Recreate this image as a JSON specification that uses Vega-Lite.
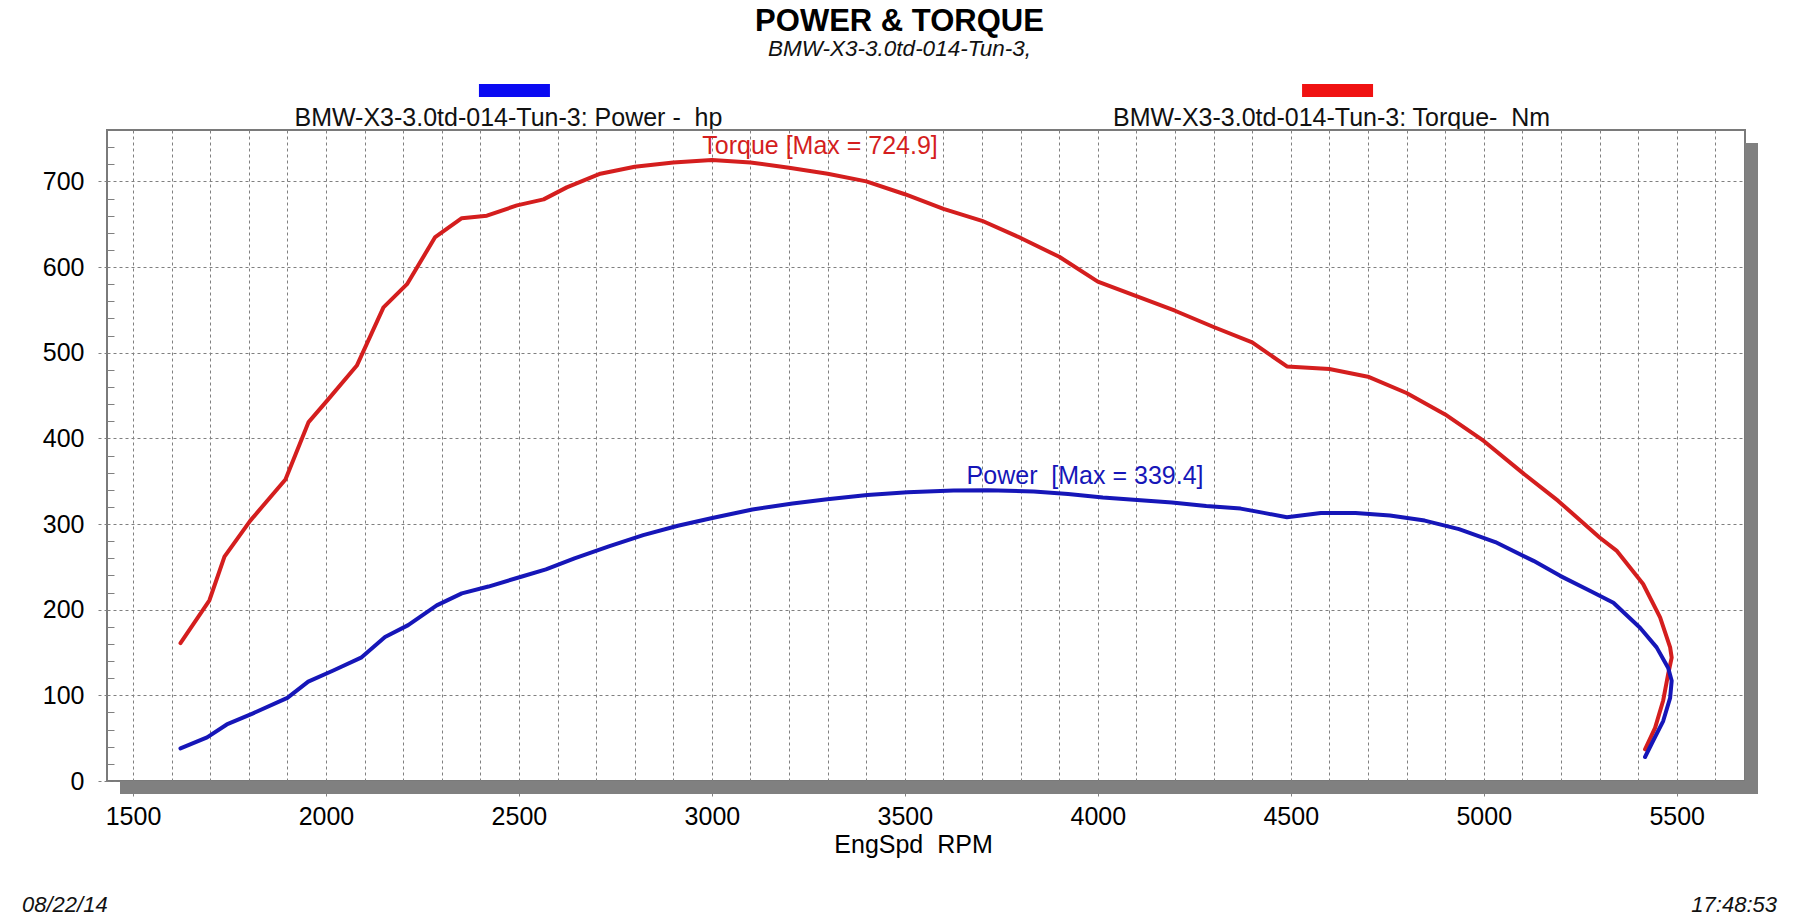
{
  "$schema": "https://vega.github.io/schema/vega-lite/v6.json",
  "background": "white",
  "padding": {"left": 22, "top": 5, "right": 10, "bottom": 0},
  "title": {
    "text": "POWER & TORQUE",
    "subtitle": "BMW-X3-3.0td-014-Tun-3,",
    "font": "Liberation Sans",
    "fontSize": 31,
    "fontWeight": "bold",
    "color": "#000000",
    "subtitleFont": "Liberation Sans",
    "subtitleFontSize": 22.5,
    "subtitleFontStyle": "italic",
    "subtitleColor": "#111111",
    "subtitlePadding": 0,
    "anchor": "middle",
    "offset": 18
  },
  "config": {
    "view": {"stroke": null},
    "font": "Liberation Sans",
    "text": {"font": "Liberation Sans"}
  },
  "datasets": {
    "curves": [
      {"series": "Torque", "i": 1, "rpm": 1623, "value": 161},
      {"series": "Torque", "i": 2, "rpm": 1698, "value": 211},
      {"series": "Torque", "i": 3, "rpm": 1737, "value": 262},
      {"series": "Torque", "i": 4, "rpm": 1804, "value": 304},
      {"series": "Torque", "i": 5, "rpm": 1895, "value": 352},
      {"series": "Torque", "i": 6, "rpm": 1955, "value": 419},
      {"series": "Torque", "i": 7, "rpm": 2003, "value": 444},
      {"series": "Torque", "i": 8, "rpm": 2080, "value": 485},
      {"series": "Torque", "i": 9, "rpm": 2149, "value": 553},
      {"series": "Torque", "i": 10, "rpm": 2210, "value": 580},
      {"series": "Torque", "i": 11, "rpm": 2283, "value": 635},
      {"series": "Torque", "i": 12, "rpm": 2352, "value": 657},
      {"series": "Torque", "i": 13, "rpm": 2417, "value": 660},
      {"series": "Torque", "i": 14, "rpm": 2495, "value": 672},
      {"series": "Torque", "i": 15, "rpm": 2564, "value": 679},
      {"series": "Torque", "i": 16, "rpm": 2624, "value": 693},
      {"series": "Torque", "i": 17, "rpm": 2711, "value": 709},
      {"series": "Torque", "i": 18, "rpm": 2800, "value": 717},
      {"series": "Torque", "i": 19, "rpm": 2900, "value": 722},
      {"series": "Torque", "i": 20, "rpm": 3000, "value": 724.9},
      {"series": "Torque", "i": 21, "rpm": 3100, "value": 722},
      {"series": "Torque", "i": 22, "rpm": 3200, "value": 716},
      {"series": "Torque", "i": 23, "rpm": 3300, "value": 709},
      {"series": "Torque", "i": 24, "rpm": 3400, "value": 700},
      {"series": "Torque", "i": 25, "rpm": 3500, "value": 685},
      {"series": "Torque", "i": 26, "rpm": 3600, "value": 668},
      {"series": "Torque", "i": 27, "rpm": 3700, "value": 654},
      {"series": "Torque", "i": 28, "rpm": 3800, "value": 634},
      {"series": "Torque", "i": 29, "rpm": 3900, "value": 612},
      {"series": "Torque", "i": 30, "rpm": 4000, "value": 583},
      {"series": "Torque", "i": 31, "rpm": 4100, "value": 566},
      {"series": "Torque", "i": 32, "rpm": 4200, "value": 549},
      {"series": "Torque", "i": 33, "rpm": 4300, "value": 530},
      {"series": "Torque", "i": 34, "rpm": 4400, "value": 512},
      {"series": "Torque", "i": 35, "rpm": 4490, "value": 484},
      {"series": "Torque", "i": 36, "rpm": 4600, "value": 481},
      {"series": "Torque", "i": 37, "rpm": 4700, "value": 472},
      {"series": "Torque", "i": 38, "rpm": 4800, "value": 453},
      {"series": "Torque", "i": 39, "rpm": 4900, "value": 428},
      {"series": "Torque", "i": 40, "rpm": 5000, "value": 397},
      {"series": "Torque", "i": 41, "rpm": 5100, "value": 360},
      {"series": "Torque", "i": 42, "rpm": 5193, "value": 327},
      {"series": "Torque", "i": 43, "rpm": 5301, "value": 284},
      {"series": "Torque", "i": 44, "rpm": 5344, "value": 269},
      {"series": "Torque", "i": 45, "rpm": 5413, "value": 230},
      {"series": "Torque", "i": 46, "rpm": 5457, "value": 191},
      {"series": "Torque", "i": 47, "rpm": 5483, "value": 156},
      {"series": "Torque", "i": 48, "rpm": 5487, "value": 144},
      {"series": "Torque", "i": 49, "rpm": 5478, "value": 125},
      {"series": "Torque", "i": 50, "rpm": 5465, "value": 94},
      {"series": "Torque", "i": 51, "rpm": 5444, "value": 62},
      {"series": "Torque", "i": 52, "rpm": 5418, "value": 37},
      {"series": "Power", "i": 1, "rpm": 1623, "value": 38},
      {"series": "Power", "i": 2, "rpm": 1692, "value": 51},
      {"series": "Power", "i": 3, "rpm": 1743, "value": 66},
      {"series": "Power", "i": 4, "rpm": 1811, "value": 79},
      {"series": "Power", "i": 5, "rpm": 1900, "value": 97},
      {"series": "Power", "i": 6, "rpm": 1954, "value": 116},
      {"series": "Power", "i": 7, "rpm": 2019, "value": 129},
      {"series": "Power", "i": 8, "rpm": 2091, "value": 144},
      {"series": "Power", "i": 9, "rpm": 2153, "value": 168},
      {"series": "Power", "i": 10, "rpm": 2213, "value": 182},
      {"series": "Power", "i": 11, "rpm": 2287, "value": 205},
      {"series": "Power", "i": 12, "rpm": 2352, "value": 219},
      {"series": "Power", "i": 13, "rpm": 2421, "value": 227},
      {"series": "Power", "i": 14, "rpm": 2510, "value": 239},
      {"series": "Power", "i": 15, "rpm": 2570, "value": 247},
      {"series": "Power", "i": 16, "rpm": 2644, "value": 260},
      {"series": "Power", "i": 17, "rpm": 2733, "value": 274},
      {"series": "Power", "i": 18, "rpm": 2822, "value": 287},
      {"series": "Power", "i": 19, "rpm": 2912, "value": 298},
      {"series": "Power", "i": 20, "rpm": 3001, "value": 307},
      {"series": "Power", "i": 21, "rpm": 3105, "value": 317},
      {"series": "Power", "i": 22, "rpm": 3209, "value": 324},
      {"series": "Power", "i": 23, "rpm": 3299, "value": 329},
      {"series": "Power", "i": 24, "rpm": 3403, "value": 334},
      {"series": "Power", "i": 25, "rpm": 3507, "value": 337},
      {"series": "Power", "i": 26, "rpm": 3626, "value": 339},
      {"series": "Power", "i": 27, "rpm": 3716, "value": 339.4},
      {"series": "Power", "i": 28, "rpm": 3834, "value": 338},
      {"series": "Power", "i": 29, "rpm": 3923, "value": 335},
      {"series": "Power", "i": 30, "rpm": 4013, "value": 331},
      {"series": "Power", "i": 31, "rpm": 4102, "value": 328},
      {"series": "Power", "i": 32, "rpm": 4192, "value": 325},
      {"series": "Power", "i": 33, "rpm": 4281, "value": 321},
      {"series": "Power", "i": 34, "rpm": 4370, "value": 318},
      {"series": "Power", "i": 35, "rpm": 4430, "value": 313},
      {"series": "Power", "i": 36, "rpm": 4490, "value": 308},
      {"series": "Power", "i": 37, "rpm": 4578, "value": 313},
      {"series": "Power", "i": 38, "rpm": 4668, "value": 313},
      {"series": "Power", "i": 39, "rpm": 4757, "value": 310},
      {"series": "Power", "i": 40, "rpm": 4847, "value": 304},
      {"series": "Power", "i": 41, "rpm": 4936, "value": 294},
      {"series": "Power", "i": 42, "rpm": 5030, "value": 279},
      {"series": "Power", "i": 43, "rpm": 5129, "value": 257},
      {"series": "Power", "i": 44, "rpm": 5198, "value": 239.5},
      {"series": "Power", "i": 45, "rpm": 5275, "value": 222},
      {"series": "Power", "i": 46, "rpm": 5336, "value": 208},
      {"series": "Power", "i": 47, "rpm": 5405, "value": 179},
      {"series": "Power", "i": 48, "rpm": 5448, "value": 156},
      {"series": "Power", "i": 49, "rpm": 5478, "value": 132},
      {"series": "Power", "i": 50, "rpm": 5487, "value": 117},
      {"series": "Power", "i": 51, "rpm": 5483, "value": 97},
      {"series": "Power", "i": 52, "rpm": 5465, "value": 70},
      {"series": "Power", "i": 53, "rpm": 5439, "value": 47},
      {"series": "Power", "i": 54, "rpm": 5418, "value": 28}
    ],
    "maxima": [
      {"series": "Torque", "rpm": 2975, "value": 724.9, "label": "Torque [Max = 724.9]"},
      {"series": "Power", "rpm": 3660, "value": 339.4, "label": "Power \u00a0[Max = 339.4]"}
    ],
    "legend": [
      {"series": "Power", "label": "BMW-X3-3.0td-014-Tun-3: Power - \u00a0hp"},
      {"series": "Torque", "label": "BMW-X3-3.0td-014-Tun-3: Torque- \u00a0Nm"}
    ],
    "stamps": [
      {"kind": "date", "text": "08/22/14"},
      {"kind": "time", "text": "17:48:53"}
    ]
  },
  "spacing": 0,
  "bounds": "flush",
  "vconcat": [
    {
      "width": 1638,
      "height": 51,
      "data": {"name": "legend"},
      "layer": [
        {
          "mark": {"type": "point", "filled": true, "shape": "M-1,-0.1831H1V0.1831H-1Z", "size": 5041, "opacity": 1, "yOffset": -14},
          "encoding": {
            "x": {"field": "series", "type": "nominal", "scale": {"type": "point", "domain": ["Power", "Torque"], "padding": 0.495}, "axis": null},
            "fill": {"field": "series", "type": "nominal", "scale": {"domain": ["Power", "Torque"], "range": ["#0a0af2", "#f01212"]}, "legend": null}
          }
        },
        {
          "mark": {"type": "text", "fontSize": 25, "dy": 21.5, "dx": -6, "baseline": "alphabetic", "color": "#111111"},
          "encoding": {
            "x": {"field": "series", "type": "nominal", "scale": {"type": "point", "domain": ["Power", "Torque"], "padding": 0.495}, "axis": null},
            "text": {"field": "label"}
          }
        }
      ]
    },
    {
      "width": 1638,
      "height": 651,
      "view": {"stroke": "#7a7a7a", "strokeWidth": 2},
      "resolve": {"axis": {"x": "independent", "y": "independent"}},
      "layer": [
        {
          "data": {"values": [{}]},
          "mark": {"type": "rect", "color": "#808080", "xOffset": 13, "x2Offset": 13, "y2Offset": 13},
          "encoding": {
            "x": {"datum": 1432.6, "type": "quantitative", "axis": null},
            "x2": {"datum": 5677},
            "y": {"datum": 0, "type": "quantitative", "axis": null},
            "y2": {"datum": 0}
          }
        },
        {
          "data": {"values": [{}]},
          "mark": {"type": "rect", "color": "#808080", "x2Offset": 13, "yOffset": 13, "y2Offset": 13},
          "encoding": {
            "x": {"datum": 5677, "type": "quantitative", "axis": null},
            "x2": {"datum": 5677},
            "y": {"datum": 760, "type": "quantitative", "axis": null},
            "y2": {"datum": 0}
          }
        },
        {
          "data": {"name": "curves"},
          "mark": {"type": "line", "strokeWidth": 4, "strokeJoin": "round", "strokeCap": "round"},
          "encoding": {
            "x": {
              "field": "rpm", "type": "quantitative",
              "scale": {"domain": [1432.6, 5677], "nice": false, "zero": false},
              "axis": {
                "orient": "bottom",
                "values": [1500, 2000, 2500, 3000, 3500, 4000, 4500, 5000, 5500],
                "format": "d",
                "grid": false, "domain": false,
                "ticks": true, "tickSize": 18, "tickColor": "#808080", "tickDash": [3, 3],
                "labelFont": "Liberation Sans", "labelFontSize": 25, "labelColor": "#000000", "labelPadding": 5,
                "labelFlush": false, "labelOverlap": false,
                "title": "EngSpd \u00a0RPM", "titleFont": "Liberation Sans", "titleFontSize": 25, "titleFontWeight": "normal", "titleColor": "#000000", "titlePadding": 3, "titleX": 806
              }
            },
            "y": {
              "field": "value", "type": "quantitative",
              "scale": {"domain": [0, 760], "nice": false},
              "axis": {
                "orient": "left",
                "values": [0, 100, 200, 300, 400, 500, 600, 700],
                "grid": true, "gridColor": "#808080", "gridDash": [3, 3], "gridWidth": 1,
                "domain": false,
                "tickSize": 9, "tickColor": "#808080", "tickDash": [3, 3],
                "labelFont": "Liberation Sans", "labelFontSize": 25, "labelColor": "#000000", "labelPadding": 14,
                "labelFlush": false, "labelOverlap": false,
                "title": null
              }
            },
            "color": {"field": "series", "type": "nominal", "scale": {"domain": ["Power", "Torque"], "range": ["#1616b8", "#d41e1e"]}, "legend": null},
            "order": {"field": "i", "type": "quantitative"}
          }
        },
        {
          "data": {"name": "maxima"},
          "mark": {"type": "text", "align": "left", "baseline": "middle", "dy": -14, "fontSize": 25},
          "encoding": {
            "x": {
              "field": "rpm", "type": "quantitative",
              "axis": {
                "orient": "bottom",
                "values": [1500, 1600, 1700, 1800, 1900, 2000, 2100, 2200, 2300, 2400, 2500, 2600, 2700, 2800, 2900, 3000, 3100, 3200, 3300, 3400, 3500, 3600, 3700, 3800, 3900, 4000, 4100, 4200, 4300, 4400, 4500, 4600, 4700, 4800, 4900, 5000, 5100, 5200, 5300, 5400, 5500, 5600],
                "grid": true, "gridColor": "#808080", "gridDash": [3, 3], "gridWidth": 1,
                "ticks": false, "labels": false, "domain": false, "title": null
              }
            },
            "y": {
              "field": "value", "type": "quantitative",
              "axis": {
                "orient": "left",
                "values": [20, 40, 60, 80, 120, 140, 160, 180, 220, 240, 260, 280, 320, 340, 360, 380, 420, 440, 460, 480, 520, 540, 560, 580, 620, 640, 660, 680, 720, 740],
                "grid": false, "ticks": true, "tickSize": -7, "tickColor": "#808080",
                "labels": false, "domain": false, "title": null
              }
            },
            "color": {"field": "series", "type": "nominal", "scale": {"domain": ["Power", "Torque"], "range": ["#1616b8", "#d41e1e"]}, "legend": null},
            "text": {"field": "label"}
          }
        }
      ]
    },
    {
      "width": 1638,
      "height": 131,
      "data": {"name": "stamps"},
      "layer": [
        {
          "transform": [{"filter": "datum.kind === 'date'"}],
          "mark": {"type": "text", "align": "left", "baseline": "alphabetic", "dx": -85, "dy": 65.5, "fontSize": 22, "fontStyle": "italic", "color": "#111111"},
          "encoding": {
            "x": {"field": "kind", "type": "nominal", "scale": {"type": "point", "domain": ["date", "time"], "padding": 0}, "axis": null},
            "text": {"field": "text"}
          }
        },
        {
          "transform": [{"filter": "datum.kind === 'time'"}],
          "mark": {"type": "text", "align": "right", "baseline": "alphabetic", "dx": 32, "dy": 65.5, "fontSize": 22, "fontStyle": "italic", "color": "#111111"},
          "encoding": {
            "x": {"field": "kind", "type": "nominal", "scale": {"type": "point", "domain": ["date", "time"], "padding": 0}, "axis": null},
            "text": {"field": "text"}
          }
        }
      ]
    }
  ]
}
